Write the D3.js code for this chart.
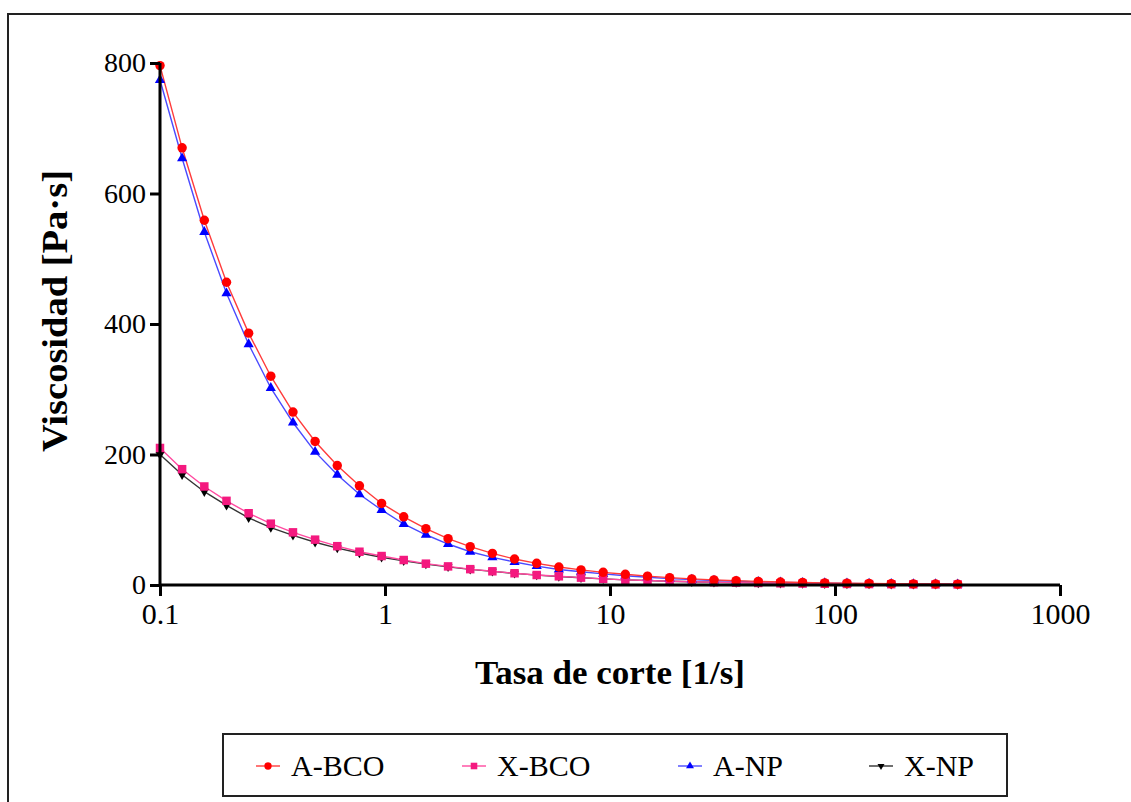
<!DOCTYPE html>
<html>
<head>
<meta charset="utf-8">
<script src="https://cdn.jsdelivr.net/npm/d3@7"></script>
<style>
  html, body { margin: 0; padding: 0; background: #fff; }
  svg { display: block; }
</style>
</head>
<body>
<svg id="chart" width="1131" height="802"></svg>
<script>
// Shear rate values (1/s)
const shearRate = [0.1, 0.1254, 0.1574, 0.1975, 0.2477, 0.3108, 0.3899, 0.4891, 0.6136, 0.7698,
  0.9657, 1.211, 1.520, 1.907, 2.392, 3.001, 3.765, 4.723, 5.925, 7.433,
  9.325, 11.70, 14.68, 18.41, 23.10, 28.98, 36.35, 45.60, 57.21, 71.77,
  90.04, 113.0, 141.7, 177.8, 223.0, 279.8, 351.0];

const aBCO = [796, 670, 559, 464, 386, 320, 265, 220, 183, 152, 125, 104.5, 86.3, 71, 58.7, 48.5, 39.8, 33.2, 27.6, 23.2,
  19.4, 16.4, 13.6, 11.3, 9.4, 7.9, 6.6, 5.5, 4.6, 3.9, 3.3, 2.8, 2.4, 2.0, 1.7, 1.5, 1.3];
const xBCO = [210, 177.5, 151, 129, 110, 94, 80.7, 69.5, 59.5, 51, 44.4, 38.3, 32.7, 28.5, 24.3, 21, 18, 15.3, 13.3, 11.3,
  9.4, 7.9, 6.8, 5.8, 5.0, 4.3, 3.6, 3.1, 2.6, 2.2, 1.9, 1.6, 1.4, 1.2, 1.05, 0.9, 0.8];
const aNP = [774, 654, 541, 447, 369, 302, 249, 204, 169, 139, 115, 93.5, 77, 62.8, 51, 42.4, 35.2, 29, 23.8, 20.2,
  17.1, 14.2, 11.8, 9.8, 8.2, 6.8, 5.7, 4.8, 4.0, 3.4, 2.9, 2.4, 2.0, 1.7, 1.5, 1.3, 1.1];
const xNP = [200, 169, 143, 122, 103, 88, 76, 65.5, 56.5, 49, 42.5, 37, 32, 27.8, 24, 20.8, 17.8, 15.2, 13.1, 11.2,
  9.4, 7.9, 6.8, 5.8, 5.0, 4.3, 3.6, 3.1, 2.6, 2.2, 1.9, 1.6, 1.4, 1.2, 1.05, 0.9, 0.8];

const xTicks = [0.1, 1, 10, 100, 1000];
const xTickLabels = ["0.1", "1", "10", "100", "1000"];
const yTicks = [0, 200, 400, 600, 800];

const seriesNames = ["A-BCO", "X-BCO", "A-NP", "X-NP"];

const series = [
  { name: "A-BCO", values: aBCO, line: "#ff3b3b", fill: "#ff0000", symbol: d3.symbolCircle, size: 70, rot: 0 },
  { name: "X-BCO", values: xBCO, line: "#ff4aa0", fill: "#f4197f", symbol: d3.symbolSquare, size: 72, rot: 0 },
  { name: "A-NP", values: aNP, line: "#4a4aff", fill: "#0000ff", symbol: d3.symbolTriangle, size: 45, rot: 0 },
  { name: "X-NP", values: xNP, line: "#333333", fill: "#000000", symbol: d3.symbolTriangle, size: 35, rot: 180 }
];

const svg = d3.select("#chart");
const FONT = "'Liberation Serif', 'Times New Roman', Times, serif";

// outer frame
svg.append("rect").attr("x", 8).attr("y", 14).attr("width", 1140).attr("height", 820)
  .attr("fill", "none").attr("stroke", "#222").attr("stroke-width", 2);

const x = d3.scaleLog().domain([0.1, 1000]).range([160, 1060]);
const y = d3.scaleLinear().domain([0, 800]).range([585, 63]);

// data marks (draw order: X-NP, A-NP, X-BCO, A-BCO)
const drawOrder = [3, 2, 1, 0];
const lineGen = d3.line().x(d => x(d[0])).y(d => y(d[1]));
drawOrder.forEach(i => {
  const s = series[i];
  const pts = shearRate.map((r, k) => [r, s.values[k]]);
  svg.append("path").datum(pts).attr("d", lineGen)
    .attr("fill", "none").attr("stroke", s.line).attr("stroke-width", 1.4);
});
drawOrder.forEach(i => {
  const s = series[i];
  const pts = shearRate.map((r, k) => [r, s.values[k]]);
  svg.append("g").selectAll("path").data(pts).join("path")
    .attr("d", d3.symbol().type(s.symbol).size(s.size))
    .attr("transform", d => `translate(${x(d[0])},${y(d[1])}) rotate(${s.rot})`)
    .attr("fill", s.fill);
});

// axes
const xAxis = svg.append("g").attr("transform", "translate(0,585)")
  .call(d3.axisBottom(x).tickValues(xTicks).tickFormat((d, i) => xTickLabels[i]).tickSize(11).tickPadding(7));
const yAxis = svg.append("g").attr("transform", "translate(160,0)")
  .call(d3.axisLeft(y).tickValues(yTicks).tickFormat(d3.format("d")).tickSize(10).tickPadding(4));
[xAxis, yAxis].forEach((g, gi) => {
  const fs = gi === 0 ? 30 : 28;
  g.attr("font-family", FONT).attr("font-size", fs);
  g.select(".domain").attr("stroke", "#000").attr("stroke-width", 3);
  g.selectAll(".tick line").attr("stroke", "#000").attr("stroke-width", 3);
  g.selectAll(".tick text").attr("fill", "#000").attr("font-family", FONT).attr("font-size", fs);
});
xAxis.select(".domain").attr("d", "M160,0H1060");
yAxis.select(".domain").attr("d", "M0,585V63");

// axis titles
svg.append("text").attr("x", 610).attr("y", 684).attr("text-anchor", "middle")
  .attr("font-family", FONT).attr("font-weight", "bold").attr("font-size", 34)
  .attr("textLength", 270).attr("lengthAdjust", "spacingAndGlyphs")
  .text("Tasa de corte [1/s]");
svg.append("text").attr("transform", "translate(67,311) rotate(-90)").attr("text-anchor", "middle")
  .attr("font-family", FONT).attr("font-weight", "bold").attr("font-size", 35)
  .attr("textLength", 282).attr("lengthAdjust", "spacingAndGlyphs")
  .text("Viscosidad [Pa·s]");

// legend
svg.append("rect").attr("x", 223).attr("y", 734).attr("width", 784).attr("height", 62)
  .attr("fill", "#fff").attr("stroke", "#222").attr("stroke-width", 2);
const legendX = [268, 474, 690, 881];
series.forEach((s, i) => {
  const g = svg.append("g").attr("transform", `translate(${legendX[i]},766)`);
  g.append("line").attr("x1", -12).attr("x2", 12).attr("stroke", s.line).attr("stroke-width", 1.4);
  g.append("path").attr("d", d3.symbol().type(s.symbol).size(s.size * 0.6)).attr("transform", `rotate(${s.rot})`)
    .attr("fill", s.fill);
  g.append("text").attr("x", 23).attr("y", 10).attr("font-family", FONT).attr("font-size", 30)
    .attr("fill", "#000").text(seriesNames[i]);
});
</script>
</body>
</html>
